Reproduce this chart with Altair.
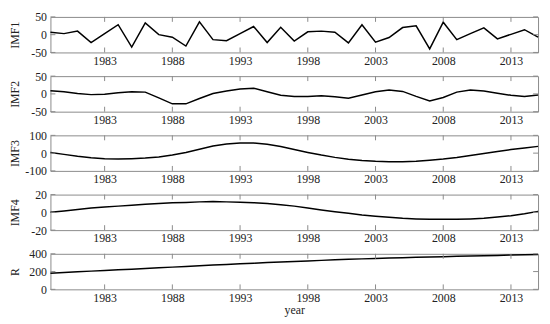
import altair as alt
import pandas as pd

years = list(range(1979, 2016))

imf1 = [7, 3, 10, -22, 3, 28, -35, 33, 0, -7, -32, 36, -14, -17, 3, 23, -22,
        21, -18, 8, 10, 7, -23, 28, -21, -8, 20, 25, -40, 35, -14, 3, 19, -12, 1, 14, -7]
imf2 = [9, 6, 1, -2, -1, 3, 6, 5, -11, -28, -28, -13, 1, 8, 14, 16, 6,
        -4, -7, -7, -5, -8, -12, -3, 6, 11, 7, -7, -20, -10, 5, 11, 8, 2, -4, -7, -3]
imf3 = [4, -7, -18, -26, -31, -33, -31, -28, -22, -11, 4, 22, 40, 51, 57, 57, 50,
        37, 20, 4, -11, -24, -35, -42, -46, -48, -48, -46, -40, -33, -24, -13, -2, 9, 20, 29, 38]
imf4 = [0, 1.5, 3.3, 4.8, 6, 7, 8, 9.2, 10, 10.7, 11.1, 11.8, 12.2, 11.8, 11.5, 10.9, 9.9,
        8.6, 7, 4.8, 2.6, 0.7, -1.1, -3, -4.4, -5.6, -6.7, -7.4, -7.8, -7.8, -7.8, -7.4, -6.7, -5.2, -3.7, -1.5, 1.1]
resid = [182, 190, 197, 205, 212, 220, 227, 235, 242, 250,
         258, 265, 273, 280, 288, 294, 301, 307, 314, 320,
         326, 332, 338, 343, 348, 352, 356, 360, 364, 368,
         372, 375, 379, 382, 386, 389, 392]

x_ticks = [1983, 1988, 1993, 1998, 2003, 2008, 2013]
panel_names = ["IMF1", "IMF2", "IMF3", "IMF4", "R"]
panel_values = [imf1, imf2, imf3, imf4, resid]
panel_domains = [[-50, 50], [-50, 50], [-100, 100], [-20, 20], [0, 400]]
panel_yticks = [[-50, 0, 50], [-50, 0, 50], [-100, 0, 100], [-20, 0, 20], [0, 200, 400]]

W, H = 494, 36
FONT = "Liberation Serif"
BORDER = "#8a8a8a"
TL = 5
LABEL_EXPR = "(datum.value < 0 ? '-' : '') + format(abs(datum.value), 'd')"


def make_panel(name, vals, dom, yt, last):
    df = pd.DataFrame({"year": years, "v": vals})
    xs = alt.Scale(domain=[1979, 2015], nice=False, zero=False)
    ys = alt.Scale(domain=dom, nice=False, zero=False)
    xtitle = "year" if last else ""
    xaxis = alt.Axis(values=x_ticks, format="d", ticks=False, domain=False,
                     grid=False, labelPadding=3, titlePadding=1, title=xtitle)
    yaxis = alt.Axis(values=yt, ticks=False, domain=False, grid=False,
                     labelPadding=4, labelExpr=LABEL_EXPR, title=name,
                     titleX=-36, titleY=H / 2, titleAngle=270,
                     titleAlign="center", titleBaseline="middle")
    xenc = alt.X("year:Q", scale=xs, axis=xaxis)
    yenc = alt.Y("v:Q", scale=ys, axis=yaxis)
    line = alt.Chart(df).mark_line(color="black", strokeWidth=1.5).encode(
        x=xenc, y=yenc)
    xt = pd.DataFrame({"year": x_ticks})
    yd = pd.DataFrame({"v": yt})
    top = alt.Chart(xt).mark_rule(color=BORDER, strokeWidth=1).encode(
        x=xenc, y=alt.value(0), y2=alt.value(TL))
    bot = alt.Chart(xt).mark_rule(color=BORDER, strokeWidth=1).encode(
        x=xenc, y=alt.value(H - TL), y2=alt.value(H))
    left = alt.Chart(yd).mark_rule(color=BORDER, strokeWidth=1).encode(
        y=yenc, x=alt.value(0), x2=alt.value(TL))
    right = alt.Chart(yd).mark_rule(color=BORDER, strokeWidth=1).encode(
        y=yenc, x=alt.value(W - TL), x2=alt.value(W))
    return alt.layer(line, top, bot, left, right).properties(width=W, height=H)


panels = [make_panel(n, v, d, t, i == 4)
          for i, (n, v, d, t) in enumerate(zip(panel_names, panel_values, panel_domains, panel_yticks))]

chart = alt.vconcat(*panels, spacing=24, bounds="flush").resolve_scale(
    y="independent"
).properties(
    padding={"left": 0, "top": 0, "right": 0, "bottom": 0}
).configure_view(
    stroke=BORDER, strokeWidth=1
).configure_axis(
    labelFont=FONT, titleFont=FONT, labelFontSize=12, titleFontSize=12,
    labelColor="#222222", titleColor="#222222", titleFontWeight="normal"
)

chart.save("out.html", embed_options={"renderer": "svg", "actions": False})
